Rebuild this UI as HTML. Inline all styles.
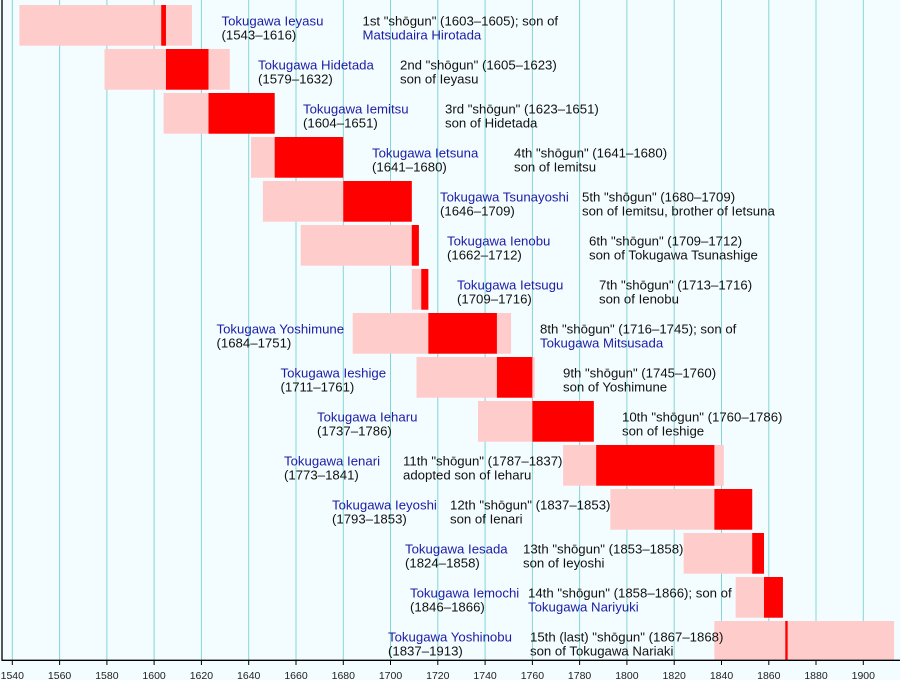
<!DOCTYPE html>
<html>
<head>
<meta charset="utf-8">
<style>
  html,body{margin:0;padding:0;background:#f3fcfe;}
  svg{display:block;}
  .n{fill:#1c1ca6;}
  .d{fill:#111;}
  text{font-family:"Liberation Sans",Arial,sans-serif;font-size:13.2px;}
  .t{font-size:10.5px;fill:#222;text-anchor:middle;}
</style>
</head>
<body>
<svg width="900" height="680" viewBox="0 0 900 680" xmlns="http://www.w3.org/2000/svg">
  <rect x="0" y="0" width="900" height="680" fill="#f3fcfe"/>
  <!-- grid -->
  <g stroke="#84d6d6" stroke-width="1">
    <line x1="12.3" y1="0" x2="12.3" y2="660"/>
    <line x1="59.6" y1="0" x2="59.6" y2="660"/>
    <line x1="106.9" y1="0" x2="106.9" y2="660"/>
    <line x1="154.1" y1="0" x2="154.1" y2="660"/>
    <line x1="201.4" y1="0" x2="201.4" y2="660"/>
    <line x1="248.7" y1="0" x2="248.7" y2="660"/>
    <line x1="296" y1="0" x2="296" y2="660"/>
    <line x1="343.3" y1="0" x2="343.3" y2="660"/>
    <line x1="390.5" y1="0" x2="390.5" y2="660"/>
    <line x1="437.8" y1="0" x2="437.8" y2="660"/>
    <line x1="485.1" y1="0" x2="485.1" y2="660"/>
    <line x1="532.4" y1="0" x2="532.4" y2="660"/>
    <line x1="579.6" y1="0" x2="579.6" y2="660"/>
    <line x1="626.9" y1="0" x2="626.9" y2="660"/>
    <line x1="674.2" y1="0" x2="674.2" y2="660"/>
    <line x1="721.5" y1="0" x2="721.5" y2="660"/>
    <line x1="768.8" y1="0" x2="768.8" y2="660"/>
    <line x1="816" y1="0" x2="816" y2="660"/>
    <line x1="863.3" y1="0" x2="863.3" y2="660"/>
  </g>
  <!-- bars in year units -->
  <g transform="translate(12.3 0) scale(2.3639 1) translate(-1540 0)">
    <rect x="1543" y="5" width="73" height="40.7" fill="#ffcccc"/>
    <rect x="1603" y="5" width="2" height="40.7" fill="#ff0000"/>

    <rect x="1579" y="49" width="53" height="40.7" fill="#ffcccc"/>
    <rect x="1605" y="49" width="18" height="40.7" fill="#ff0000"/>

    <rect x="1604" y="93" width="47" height="40.7" fill="#ffcccc"/>
    <rect x="1623" y="93" width="28" height="40.7" fill="#ff0000"/>

    <rect x="1641" y="137" width="39" height="40.7" fill="#ffcccc"/>
    <rect x="1651" y="137" width="29" height="40.7" fill="#ff0000"/>

    <rect x="1646" y="181" width="63" height="40.7" fill="#ffcccc"/>
    <rect x="1680" y="181" width="29" height="40.7" fill="#ff0000"/>

    <rect x="1662" y="225" width="50" height="40.7" fill="#ffcccc"/>
    <rect x="1709" y="225" width="3" height="40.7" fill="#ff0000"/>

    <rect x="1709" y="269" width="7" height="40.7" fill="#ffcccc"/>
    <rect x="1713" y="269" width="3" height="40.7" fill="#ff0000"/>

    <rect x="1684" y="313" width="67" height="40.7" fill="#ffcccc"/>
    <rect x="1716" y="313" width="29" height="40.7" fill="#ff0000"/>

    <rect x="1711" y="357" width="50" height="40.7" fill="#ffcccc"/>
    <rect x="1745" y="357" width="15" height="40.7" fill="#ff0000"/>

    <rect x="1737" y="401" width="49" height="40.7" fill="#ffcccc"/>
    <rect x="1760" y="401" width="26" height="40.7" fill="#ff0000"/>

    <rect x="1773" y="445" width="68" height="40.7" fill="#ffcccc"/>
    <rect x="1787" y="445" width="50" height="40.7" fill="#ff0000"/>

    <rect x="1793" y="489" width="60" height="40.7" fill="#ffcccc"/>
    <rect x="1837" y="489" width="16" height="40.7" fill="#ff0000"/>

    <rect x="1824" y="533" width="34" height="40.7" fill="#ffcccc"/>
    <rect x="1853" y="533" width="5" height="40.7" fill="#ff0000"/>

    <rect x="1846" y="577" width="20" height="40.7" fill="#ffcccc"/>
    <rect x="1858" y="577" width="8" height="40.7" fill="#ff0000"/>

    <rect x="1837" y="621" width="76" height="39" fill="#ffcccc"/>
    <rect x="1867" y="621" width="1" height="39" fill="#ff0000"/>
  </g>

  <!-- axes -->
  <line x1="2" y1="0" x2="2" y2="660.5" stroke="#000" stroke-width="1.3"/>
  <line x1="1.5" y1="660.3" x2="900" y2="660.3" stroke="#000" stroke-width="1.3"/>
  <g stroke="#000" stroke-width="1">
    <line x1="12.3" y1="660" x2="12.3" y2="665"/>
    <line x1="59.6" y1="660" x2="59.6" y2="665"/>
    <line x1="106.9" y1="660" x2="106.9" y2="665"/>
    <line x1="154.1" y1="660" x2="154.1" y2="665"/>
    <line x1="201.4" y1="660" x2="201.4" y2="665"/>
    <line x1="248.7" y1="660" x2="248.7" y2="665"/>
    <line x1="296" y1="660" x2="296" y2="665"/>
    <line x1="343.3" y1="660" x2="343.3" y2="665"/>
    <line x1="390.5" y1="660" x2="390.5" y2="665"/>
    <line x1="437.8" y1="660" x2="437.8" y2="665"/>
    <line x1="485.1" y1="660" x2="485.1" y2="665"/>
    <line x1="532.4" y1="660" x2="532.4" y2="665"/>
    <line x1="579.6" y1="660" x2="579.6" y2="665"/>
    <line x1="626.9" y1="660" x2="626.9" y2="665"/>
    <line x1="674.2" y1="660" x2="674.2" y2="665"/>
    <line x1="721.5" y1="660" x2="721.5" y2="665"/>
    <line x1="768.8" y1="660" x2="768.8" y2="665"/>
    <line x1="816" y1="660" x2="816" y2="665"/>
    <line x1="863.3" y1="660" x2="863.3" y2="665"/>
  </g>
  <g class="t">
    <text class="t" x="12.3" y="679">1540</text>
    <text class="t" x="59.6" y="679">1560</text>
    <text class="t" x="106.9" y="679">1580</text>
    <text class="t" x="154.1" y="679">1600</text>
    <text class="t" x="201.4" y="679">1620</text>
    <text class="t" x="248.7" y="679">1640</text>
    <text class="t" x="296" y="679">1660</text>
    <text class="t" x="343.3" y="679">1680</text>
    <text class="t" x="390.5" y="679">1700</text>
    <text class="t" x="437.8" y="679">1720</text>
    <text class="t" x="485.1" y="679">1740</text>
    <text class="t" x="532.4" y="679">1760</text>
    <text class="t" x="579.6" y="679">1780</text>
    <text class="t" x="626.9" y="679">1800</text>
    <text class="t" x="674.2" y="679">1820</text>
    <text class="t" x="721.5" y="679">1840</text>
    <text class="t" x="768.8" y="679">1860</text>
    <text class="t" x="816" y="679">1880</text>
    <text class="t" x="863.3" y="679">1900</text>
  </g>

  <!-- labels -->
  <text class="n" x="221.5" y="25.5">Tokugawa Ieyasu</text>
  <text class="d" x="221.5" y="39.5">(1543–1616)</text>
  <text class="d" x="362.5" y="25.5">1st "shōgun" (1603–1605); son of</text>
  <text class="n" x="362.5" y="39.5">Matsudaira Hirotada</text>

  <text class="n" x="258" y="69.5">Tokugawa Hidetada</text>
  <text class="d" x="258" y="83.5">(1579–1632)</text>
  <text class="d" x="400" y="69.5">2nd "shōgun" (1605–1623)</text>
  <text class="d" x="400" y="83.5">son of Ieyasu</text>

  <text class="n" x="303" y="113.5">Tokugawa Iemitsu</text>
  <text class="d" x="303" y="127.5">(1604–1651)</text>
  <text class="d" x="445" y="113.5">3rd "shōgun" (1623–1651)</text>
  <text class="d" x="445" y="127.5">son of Hidetada</text>

  <text class="n" x="372" y="157.5">Tokugawa Ietsuna</text>
  <text class="d" x="372" y="171.5">(1641–1680)</text>
  <text class="d" x="514" y="157.5">4th "shōgun" (1641–1680)</text>
  <text class="d" x="514" y="171.5">son of Iemitsu</text>

  <text class="n" x="440" y="201.5">Tokugawa Tsunayoshi</text>
  <text class="d" x="440" y="215.5">(1646–1709)</text>
  <text class="d" x="582" y="201.5">5th "shōgun" (1680–1709)</text>
  <text class="d" x="582" y="215.5">son of Iemitsu, brother of Ietsuna</text>

  <text class="n" x="447" y="245.5">Tokugawa Ienobu</text>
  <text class="d" x="447" y="259.5">(1662–1712)</text>
  <text class="d" x="589" y="245.5">6th "shōgun" (1709–1712)</text>
  <text class="d" x="589" y="259.5">son of Tokugawa Tsunashige</text>

  <text class="n" x="457" y="289.5">Tokugawa Ietsugu</text>
  <text class="d" x="457" y="303.5">(1709–1716)</text>
  <text class="d" x="599" y="289.5">7th "shōgun" (1713–1716)</text>
  <text class="d" x="599" y="303.5">son of Ienobu</text>

  <text class="n" x="216.5" y="333.5">Tokugawa Yoshimune</text>
  <text class="d" x="216.5" y="347.5">(1684–1751)</text>
  <text class="d" x="540" y="333.5">8th "shōgun" (1716–1745); son of</text>
  <text class="n" x="540" y="347.5">Tokugawa Mitsusada</text>

  <text class="n" x="280.5" y="377.5">Tokugawa Ieshige</text>
  <text class="d" x="280.5" y="391.5">(1711–1761)</text>
  <text class="d" x="563" y="377.5">9th "shōgun" (1745–1760)</text>
  <text class="d" x="563" y="391.5">son of Yoshimune</text>

  <text class="n" x="317" y="421.5">Tokugawa Ieharu</text>
  <text class="d" x="317" y="435.5">(1737–1786)</text>
  <text class="d" x="622" y="421.5">10th "shōgun" (1760–1786)</text>
  <text class="d" x="622" y="435.5">son of Ieshige</text>

  <text class="n" x="284" y="465.5">Tokugawa Ienari</text>
  <text class="d" x="284" y="479.5">(1773–1841)</text>
  <text class="d" x="403" y="465.5">11th "shōgun" (1787–1837)</text>
  <text class="d" x="403" y="479.5">adopted son of Ieharu</text>

  <text class="n" x="332" y="509.5">Tokugawa Ieyoshi</text>
  <text class="d" x="332" y="523.5">(1793–1853)</text>
  <text class="d" x="450" y="509.5">12th "shōgun" (1837–1853)</text>
  <text class="d" x="450" y="523.5">son of Ienari</text>

  <text class="n" x="405" y="553.5">Tokugawa Iesada</text>
  <text class="d" x="405" y="567.5">(1824–1858)</text>
  <text class="d" x="523" y="553.5">13th "shōgun" (1853–1858)</text>
  <text class="d" x="523" y="567.5">son of Ieyoshi</text>

  <text class="n" x="410" y="597.5">Tokugawa Iemochi</text>
  <text class="d" x="410" y="611.5">(1846–1866)</text>
  <text class="d" x="528" y="597.5">14th "shōgun" (1858–1866); son of</text>
  <text class="n" x="528" y="611.5">Tokugawa Nariyuki</text>

  <text class="n" x="388" y="641.5">Tokugawa Yoshinobu</text>
  <text class="d" x="388" y="655.5">(1837–1913)</text>
  <text class="d" x="530" y="641.5">15th (last) "shōgun" (1867–1868)</text>
  <text class="d" x="530" y="655.5">son of Tokugawa Nariaki</text>
</svg>
</body>
</html>
